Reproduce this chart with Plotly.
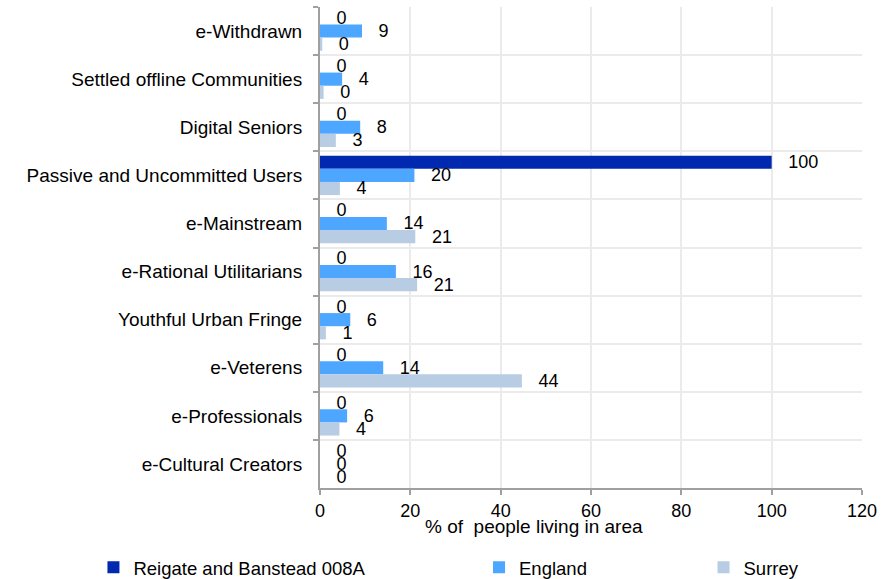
import plotly.graph_objects as go

categories = ["e-Withdrawn", "Settled offline Communities", "Digital Seniors",
              "Passive and Uncommitted Users", "e-Mainstream", "e-Rational Utilitarians",
              "Youthful Urban Fringe", "e-Veterens", "e-Professionals", "e-Cultural Creators"]
reigate = [0, 0, 0, 100, 0, 0, 0, 0, 0, 0]
england = [9.3, 4.9, 8.9, 20.9, 14.8, 16.8, 6.7, 14.0, 6.0, 0]
surrey = [0.5, 0.8, 3.5, 4.4, 21.1, 21.5, 1.3, 44.7, 4.3, 0]
reigate_labels = ["0", "0", "0", "100", "0", "0", "0", "0", "0", "0"]
england_labels = ["9", "4", "8", "20", "14", "16", "6", "14", "6", "0"]
surrey_labels = ["0", "0", "3", "4", "21", "21", "1", "44", "4", "0"]
x_ticks = [0, 20, 40, 60, 80, 100, 120]

FONT = "Liberation Sans, Arial, sans-serif"
PAD = "\u00a0\u00a0\u2009"

series = [
    ("Reigate and Banstead 008A", reigate, reigate_labels, "#0029B0", "legend"),
    ("England", england, england_labels, "#4DA6FF", "legend2"),
    ("Surrey", surrey, surrey_labels, "#B8CCE4", "legend3"),
]

fig = go.Figure()
for name, vals, labs, col, leg in series:
    fig.add_trace(go.Bar(
        y=categories, x=vals, name=name, orientation="h",
        marker=dict(color=col, line=dict(width=0)),
        text=[PAD + l for l in labs], textposition="outside",
        constraintext="none", cliponaxis=False,
        textfont=dict(family=FONT, size=18, color="#000000"),
        legend=leg, showlegend=True,
    ))

legend_common = dict(orientation="h", yanchor="middle", y=-0.166, xanchor="left",
                     font=dict(family=FONT, size=18.5, color="#000000"),
                     bgcolor="rgba(0,0,0,0)")
fig.update_layout(
    width=888, height=579, showlegend=True,
    margin=dict(l=320, r=26, t=7, b=91, autoexpand=False),
    barmode="group", bargap=0.18, bargroupgap=0,
    plot_bgcolor="#FFFFFF", paper_bgcolor="#FFFFFF",
    font=dict(family=FONT, size=18, color="#000000"),
    legend=dict(x=-0.418, **legend_common),
    legend2=dict(x=0.2934, **legend_common),
    legend3=dict(x=0.7076, **legend_common),
    xaxis=dict(range=[0, 120], tickvals=x_ticks, ticks="outside", ticklen=5,
               tickcolor="#A0A0A0", tickwidth=2, automargin=False,
               showline=True, linecolor="#A0A0A0", linewidth=2,
               showgrid=True, gridcolor="#EBEBEB", gridwidth=2, zeroline=False,
               tickfont=dict(family=FONT, size=18, color="#000000")),
    yaxis=dict(type="category", autorange="reversed", tickson="boundaries",
               ticks="outside", ticklen=5, tickcolor="#A0A0A0", tickwidth=2,
               showline=True, linecolor="#A0A0A0", linewidth=2, automargin=False,
               showgrid=True, gridcolor="#EBEBEB", gridwidth=2,
               ticklabelstandoff=12,
               tickfont=dict(family=FONT, size=19, color="#000000")),
    annotations=[dict(text="% of\u00a0 people living in area", x=0.395, y=-0.081,
                      xref="paper", yref="paper", xanchor="center", yanchor="middle",
                      showarrow=False, font=dict(family=FONT, size=19, color="#000000"))],
)
fig.write_html("out.html", config={"displayModeBar": False},
               post_script="document.body.style.margin='0';document.body.style.padding='0';")
